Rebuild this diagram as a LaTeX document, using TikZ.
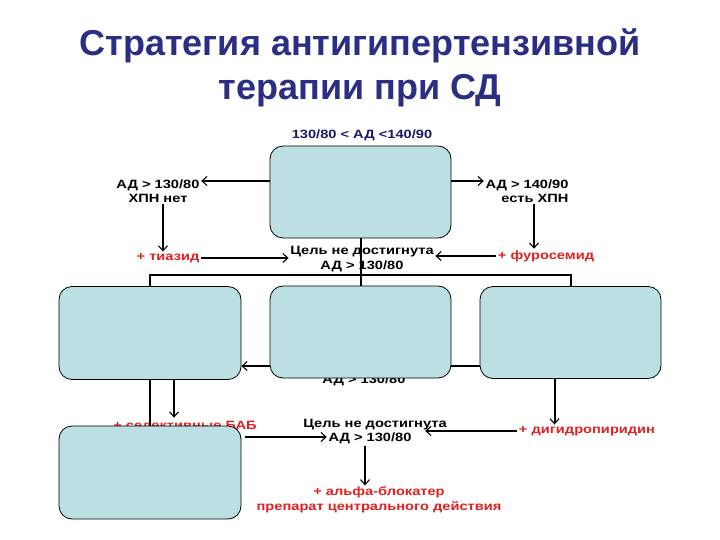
\documentclass[tikz,border=0pt]{standalone}
\usepackage{fontspec}
\setmainfont{Liberation Sans}
\newfontfamily\labfont[FakeStretch=1.22]{Liberation Sans}
\usetikzlibrary{arrows.meta,calc}
\definecolor{boxfill}{HTML}{BCDFE3}
\definecolor{titlecol}{HTML}{2B2E85}
\definecolor{labred}{HTML}{E02020}
\definecolor{navy}{HTML}{1A1A66}
\begin{document}
\begin{tikzpicture}[x=1pt,y=-1pt,
  box/.style={draw=black, line width=0.8pt, fill=boxfill, rounded corners=13pt,
    minimum width=181pt, minimum height=92pt, inner sep=0pt},
  lab/.style={font=\labfont\bfseries\fontsize{12}{14.5}\selectfont, inner sep=1.5pt, align=center},
  redlab/.style={lab, text=labred},
  ttl/.style={font=\bfseries\fontsize{36}{40}\selectfont, text=titlecol},
  conn/.style={line width=2pt},
  arr/.style={conn, -{Straight Barb[length=5pt,width=9pt,line width=1.1pt]}}
]
\useasboundingbox (0,0) rectangle (720,540);
% title
\node[ttl] (t1) at (360,46) {Стратегия антигипертензивной};
\node[ttl] (t2) at (360,91) {терапии при СД};
% labels
\node[lab, text=navy] (tl) at (362,135) {130/80 < АД <140/90};
\node[lab] (l1) at (158,191) {АД > 130/80\\ХПН нет};
\node[lab, align=right] (r1) at (527,191) {АД > 140/90\\есть ХПН};
\node[redlab] (tz) at (168,258) {+ тиазид};
\node[redlab] (fu) at (546,256) {+ фуросемид};
\node[lab] (g1) at (362,259) {Цель не достигнута\\АД > 130/80};
\node[lab] (g2) at (364,380) {АД > 130/80};
\node[redlab] (bab) at (185,425.5) {+ селективные БАБ};
\node[lab] (g3a) at (375,425) {Цель не достигнута};
\node[lab] (g3b) at (370,438.5) {АД > 130/80};
\node[redlab] (dg) at (587,431) {+ дигидропиридин};
\node[redlab] (al) at (379,500) {+ альфа-блокатер\\препарат центрального действия};
% boxes
\node[box] (top) at (360.5,192) {};
\node[box] (mid) at (360.5,332) {};
\node[box, minimum width=182pt, minimum height=93pt] (left) at (150,333) {};
\node[box] (right) at (570.5,332.5) {};
% connectors
\coordinate (a1) at ([yshift=11pt]top.west);
\draw[arr] (a1) -- (a1 -| l1.east);
\coordinate (a2) at ([yshift=11pt]top.east);
\draw[arr] (a2) -- (a2 -| r1.west);
\coordinate (a3) at ([xshift=5pt]l1.south);
\draw[arr] (a3) -- (a3 |- tz.north);
\coordinate (a4) at ([xshift=-12pt]fu.north);
\draw[arr] (a4 |- r1.south) -- (a4);
\draw[arr] (tz.east) -- (tz.east -| g1.west);
\draw[arr] (fu.west) -- (fu.west -| g1.east);
\draw[conn] (top.south) -- (mid.north);
\coordinate (h) at ([yshift=11pt]mid.north);
\draw[conn] (left.north) -- (left.north |- h) -- (right.north |- h) -- (right.north);
\coordinate (m1) at ([yshift=-34pt]mid.west);
\draw[arr] (m1) -- (m1 -| left.east);
\coordinate (m2) at ([yshift=-34pt]mid.east);
\draw[conn] (m2) -- (m2 -| right.west);
\coordinate (a5) at ([xshift=24pt]left.south);
\draw[arr] (a5) -- ([yshift=2pt]a5 |- bab.north);
\coordinate (a6) at ([xshift=-16pt]right.south);
\draw[arr] (a6) -- (a6 |- dg.north);
\coordinate (a7) at ([xshift=-5pt]g3b.south);
\draw[arr] (a7) -- (a7 |- al.north);
% bottom box
\node[box, minimum width=182pt, minimum height=93pt] (bot) at (150,472.5) {};
\draw[conn] (left.south) -- (bot.north);
\coordinate (b1) at ([yshift=35.5pt, xshift=4pt]bot.east);
\draw[arr] (b1) -- (b1 -| g3b.west);
\coordinate (b2) at ([xshift=12pt]g3b.east);
\draw[arr] (dg.west) -- (dg.west -| b2);
\end{tikzpicture}
\end{document}
